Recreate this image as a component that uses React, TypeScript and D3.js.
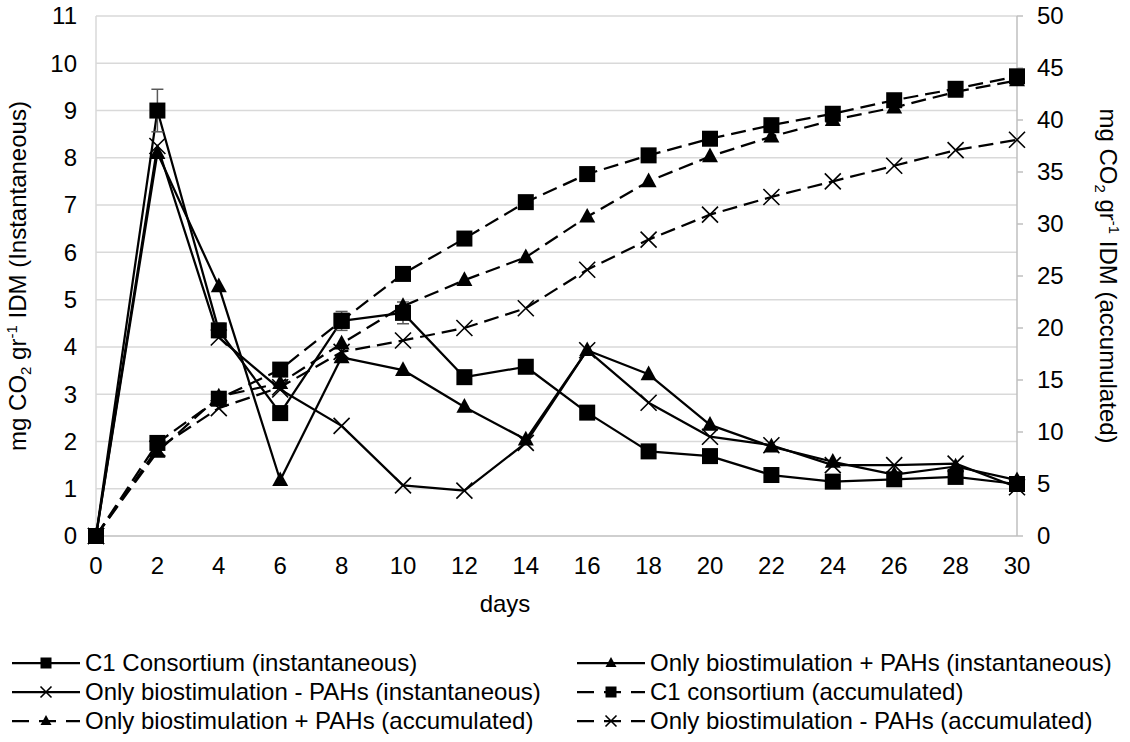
import React from "react";
import * as d3 from "d3";

// Sampling days
const days = [0, 2, 4, 6, 8, 10, 12, 14, 16, 18, 20, 22, 24, 26, 28, 30];

// Instantaneous CO2 (left axis)
const c1Inst = [0, 9.0, 4.35, 2.6, 4.55, 4.72, 3.36, 3.58, 2.61, 1.79, 1.69, 1.29, 1.15, 1.2, 1.25, 1.1];
const c1InstErr = [0, 0.45, 0.15, 0.1, 0.2, 0.23, 0.08, 0.08, 0.08, 0.05, 0.05, 0.05, 0.05, 0.05, 0.05, 0.05];
const plusInst = [0, 8.1, 5.28, 1.18, 3.78, 3.51, 2.73, 2.04, 3.93, 3.42, 2.35, 1.89, 1.57, 1.3, 1.47, 1.18];
const minusInst = [0, 8.25, 4.2, 3.1, 2.33, 1.07, 0.96, 1.97, 3.93, 2.82, 2.1, 1.92, 1.5, 1.5, 1.53, 1.03];

// Accumulated CO2 (right axis)
const c1Acc = [0, 8.95, 13.2, 16.0, 20.7, 25.2, 28.6, 32.1, 34.8, 36.6, 38.2, 39.5, 40.6, 41.9, 43.0, 44.2];
const plusAcc = [0, 8.1, 13.4, 14.7, 18.5, 22.1, 24.6, 26.8, 30.7, 34.1, 36.5, 38.4, 40.0, 41.2, 42.7, 43.8];
const minusAcc = [0, 8.4, 12.3, 14.3, 17.7, 18.8, 20.0, 21.9, 25.6, 28.5, 30.9, 32.6, 34.1, 35.6, 37.1, 38.1];

// Axis ticks
const xTicks = [0, 2, 4, 6, 8, 10, 12, 14, 16, 18, 20, 22, 24, 26, 28, 30];
const leftTicks = [0, 1, 2, 3, 4, 5, 6, 7, 8, 9, 10, 11];
const rightTicks = [0, 5, 10, 15, 20, 25, 30, 35, 40, 45, 50];

type Marker = "square" | "triangle" | "cross";

const legendItems: { label: string; marker: Marker; dashed: boolean }[] = [
  { label: "C1 Consortium (instantaneous)", marker: "square", dashed: false },
  { label: "Only biostimulation + PAHs (instantaneous)", marker: "triangle", dashed: false },
  { label: "Only biostimulation - PAHs (instantaneous)", marker: "cross", dashed: false },
  { label: "C1 consortium (accumulated)", marker: "square", dashed: true },
  { label: "Only biostimulation + PAHs (accumulated)", marker: "triangle", dashed: true },
  { label: "Only biostimulation - PAHs (accumulated)", marker: "cross", dashed: true },
];

const W = 1130;
const H = 742;
const FONT = "'Liberation Sans', Arial, sans-serif";
const DASH = "15 7";

function MarkerShape({ kind, x, y, s }: { kind: Marker; x: number; y: number; s: number }) {
  if (kind === "square") {
    return <rect x={x - s / 2} y={y - s / 2} width={s} height={s} fill="#000" />;
  }
  if (kind === "triangle") {
    const h = s * 0.92;
    return (
      <path
        d={`M${x},${y - h * 0.6}L${x + s / 2},${y + h * 0.4}L${x - s / 2},${y + h * 0.4}Z`}
        fill="#000"
      />
    );
  }
  const r = s / 2;
  return (
    <path
      d={`M${x - r},${y - r}L${x + r},${y + r}M${x - r},${y + r}L${x + r},${y - r}`}
      stroke="#000"
      strokeWidth={1.6}
      fill="none"
    />
  );
}

export default function App() {
  const x = d3.scaleLinear().domain([0, 30]).range([96, 1017]);
  const yL = d3.scaleLinear().domain([0, 11]).range([536, 16]);
  const yR = d3.scaleLinear().domain([0, 50]).range([536, 16]);

  const lineL = d3
    .line<number>()
    .x((_, i) => x(days[i]))
    .y((v) => yL(v));
  const lineR = d3
    .line<number>()
    .x((_, i) => x(days[i]))
    .y((v) => yR(v));

  const series = [
    { values: c1Acc, line: lineR, y: yR, marker: "square" as Marker, dashed: true },
    { values: plusAcc, line: lineR, y: yR, marker: "triangle" as Marker, dashed: true },
    { values: minusAcc, line: lineR, y: yR, marker: "cross" as Marker, dashed: true },
    { values: minusInst, line: lineL, y: yL, marker: "cross" as Marker, dashed: false },
    { values: plusInst, line: lineL, y: yL, marker: "triangle" as Marker, dashed: false },
    { values: c1Inst, line: lineL, y: yL, marker: "square" as Marker, dashed: false },
  ];

  const legendCols = [12, 577];
  const legendRows = [663, 692, 721];

  return (
    <svg
      width={W}
      height={H}
      style={{ position: "absolute", left: 0, top: 0, background: "#fff" }}
      fontFamily={FONT}
    >
      <rect width={W} height={H} fill="#fff" />

      {/* gridlines */}
      {leftTicks.map((t) => (
        <line
          key={`g${t}`}
          x1={x(0)}
          x2={x(30)}
          y1={yL(t)}
          y2={yL(t)}
          stroke={t === 0 ? "#bfbfbf" : "#d9d9d9"}
          strokeWidth={1.5}
        />
      ))}
      {/* axes */}
      <line x1={x(0)} x2={x(0)} y1={yL(11)} y2={yL(0)} stroke="#d9d9d9" strokeWidth={1.5} />
      <line x1={x(30)} x2={x(30)} y1={yR(50)} y2={yR(0)} stroke="#bfbfbf" strokeWidth={1.5} />
      {rightTicks.map((t) => (
        <line
          key={`rt${t}`}
          x1={x(30)}
          x2={x(30) + 6}
          y1={yR(t)}
          y2={yR(t)}
          stroke="#bfbfbf"
          strokeWidth={1.5}
        />
      ))}

      {/* tick labels */}
      {leftTicks.map((t) => (
        <text key={`lt${t}`} x={77} y={yL(t)} dy="0.35em" textAnchor="end" fontSize={24} fill="#000">
          {t}
        </text>
      ))}
      {rightTicks.map((t) => (
        <text key={`rl${t}`} x={1037} y={yR(t)} dy="0.35em" textAnchor="start" fontSize={24} fill="#000">
          {t}
        </text>
      ))}
      {xTicks.map((t) => (
        <text key={`xt${t}`} x={x(t)} y={574} textAnchor="middle" fontSize={24} fill="#000">
          {t}
        </text>
      ))}

      {/* axis titles */}
      <text x={505} y={612} textAnchor="middle" fontSize={24} fill="#000">
        days
      </text>
      <text transform="translate(26,276) rotate(-90)" textAnchor="middle" fontSize={24} fill="#000">
        mg CO
        <tspan fontSize={15} dy={5}>2</tspan>
        <tspan dy={-5}> gr</tspan>
        <tspan fontSize={15} dy={-9}>-1</tspan>
        <tspan dy={9}> IDM (Instantaneous)</tspan>
      </text>
      <text transform="translate(1100,276) rotate(90)" textAnchor="middle" fontSize={24} fill="#000">
        mg CO
        <tspan fontSize={15} dy={5}>2</tspan>
        <tspan dy={-5}> gr</tspan>
        <tspan fontSize={15} dy={-9}>-1</tspan>
        <tspan dy={9}> IDM (accumulated)</tspan>
      </text>

      {/* series lines */}
      {series.map((s, i) => (
        <path
          key={`l${i}`}
          d={s.line(s.values) ?? ""}
          fill="none"
          stroke="#000"
          strokeWidth={2.25}
          strokeDasharray={s.dashed ? DASH : undefined}
          strokeLinejoin="round"
        />
      ))}

      {/* error bars on C1 instantaneous */}
      {c1Inst.map((v, i) => {
        const e = c1InstErr[i];
        if (!e) return null;
        const cx = x(days[i]);
        return (
          <g key={`e${i}`} stroke="#595959" strokeWidth={1.5}>
            <line x1={cx} x2={cx} y1={yL(v - e)} y2={yL(v + e)} />
            <line x1={cx - 6} x2={cx + 6} y1={yL(v + e)} y2={yL(v + e)} />
            <line x1={cx - 6} x2={cx + 6} y1={yL(v - e)} y2={yL(v - e)} />
          </g>
        );
      })}

      {/* markers */}
      {series.map((s, i) => (
        <g key={`m${i}`}>
          {s.values.map((v, j) => (
            <MarkerShape key={j} kind={s.marker} x={x(days[j])} y={s.y(v)} s={16} />
          ))}
        </g>
      ))}

      {/* legend */}
      {legendItems.map((item, i) => {
        const cx0 = legendCols[i % 2];
        const cy = legendRows[Math.floor(i / 2)];
        return (
          <g key={`lg${i}`}>
            <line
              x1={cx0}
              x2={cx0 + 68}
              y1={cy}
              y2={cy}
              stroke="#000"
              strokeWidth={2.25}
              strokeDasharray={item.dashed ? "17 10" : undefined}
            />
            <MarkerShape kind={item.marker} x={cx0 + 34} y={cy} s={11} />
            <text x={cx0 + 73} y={cy} dy="0.35em" fontSize={24} fill="#000">
              {item.label}
            </text>
          </g>
        );
      })}
    </svg>
  );
}
